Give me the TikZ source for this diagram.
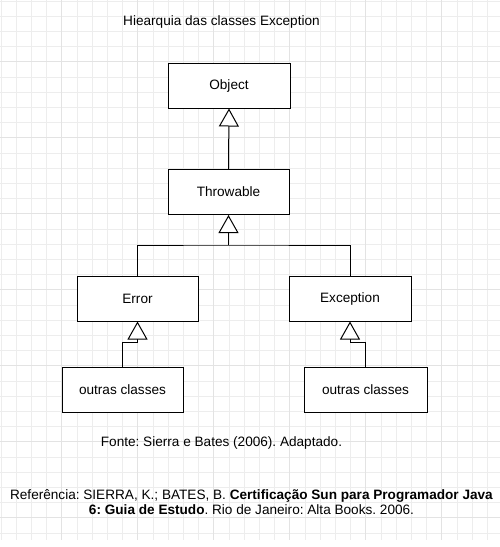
\documentclass[tikz,border=0pt]{standalone}
\usepackage{fontspec}
\setmainfont{Liberation Sans}
\usepackage{tikz}
\usetikzlibrary{arrows.meta}
\frenchspacing

\tikzset{
  classe/.style={draw, line width=1pt, fill=white, minimum height=45pt, inner sep=0pt},
  heranca/.style={line width=1pt, -{Triangle[length=18pt,width=20pt,fill=white,line width=1pt]}},
  grade/.style={draw=black!7, line width=0.7pt},
  gradeforte/.style={draw=black!11, line width=0.7pt}
}

\begin{document}
\begin{tikzpicture}[x=1pt,y=-1pt,font=\fontsize{13.6}{14.5}\selectfont]
    \useasboundingbox (0,0) rectangle (500,547);
    % grade de fundo
    \foreach \k in {0,...,32}
      \draw[grade] ({1+15.2*\k},0) -- ({1+15.2*\k},540);
    \foreach \k in {0,...,35}
      \draw[grade] (0,{1+15.2*\k}) -- (500,{1+15.2*\k});
    \foreach \k in {4,9,...,29}
      \draw[gradeforte] ({1+15.2*\k},0) -- ({1+15.2*\k},540);
    \foreach \k in {4,9,...,34}
      \draw[gradeforte] (0,{1+15.2*\k}) -- (500,{1+15.2*\k});

    \node (titulo) at (221.5,22) {Hiearquia das classes Exception};

    \node[classe, minimum width=122pt] (object) at (229,85.5) {Object};
    \node[classe, minimum width=121pt] (throwable) at (228.5,192) {Throwable};
    \node[classe, minimum width=121pt] (error) at (137.5,298.5) {Error};
    \node[classe, minimum width=122pt] (exception) at (350,298.5) {Exception};
    \node[classe, minimum width=121pt] (outras1) at (122.5,389.5) {outras classes};
    \node[classe, minimum width=123pt] (outras2) at (365.5,389.5) {outras classes};

    \coordinate (juncao) at (228.5,245);

    \draw[heranca] (throwable.north) -- (object.south);
    \draw[line width=1pt] (error.north) |- (juncao) -| (exception.north);
    \draw[heranca] (juncao) -- (throwable.south);
    \draw[heranca] (outras1.north) -- ++(0,-24) -| (error.south);
    \draw[heranca] (outras2.north) -- ++(0,-24) -| (exception.south);

    \node (fonte) at (221.5,443) {Fonte: Sierra e Bates (2006). Adaptado.};
    \node[align=center] (referencia) at (251.5,502)
      {Referência: SIERRA, K.; BATES, B. \textbf{Certificação Sun para Programador Java}\\
       \textbf{6: Guia de Estudo}. Rio de Janeiro: Alta Books. 2006.};
\end{tikzpicture}
\end{document}
